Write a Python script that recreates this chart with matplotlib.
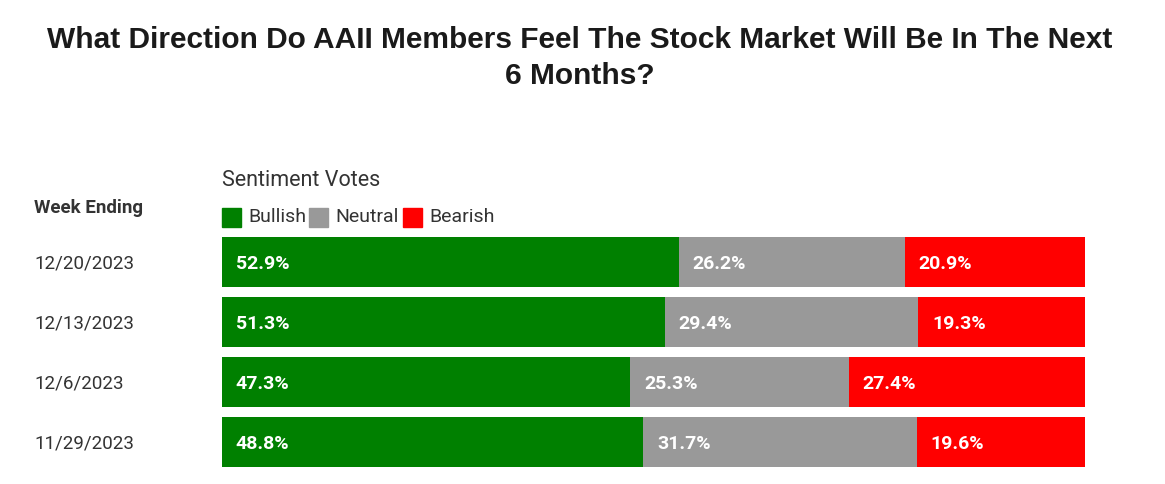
import matplotlib.pyplot as plt

weeks = ["12/20/2023", "12/13/2023", "12/6/2023", "11/29/2023"]
bullish = [52.9, 51.3, 47.3, 48.8]
neutral = [26.2, 29.4, 25.3, 31.7]
bearish = [20.9, 19.3, 27.4, 19.6]
series_names = ["Bullish", "Neutral", "Bearish"]
colors = ["#008000", "#999999", "#ff0000"]

W, H = 1165, 484
fig = plt.figure(figsize=(W / 100, H / 100), dpi=100)
fig.patch.set_facecolor("white")

# axes placed in pixel terms so bars land where the reference has them
ax = fig.add_axes([222 / W, 1 - 467 / H, (1085 - 222) / W, (467 - 237) / H])
bar_h = 50 / 60
ys = [3, 2, 1, 0]

left = [0] * len(weeks)
for name, vals, col in zip(series_names, [bullish, neutral, bearish], colors):
    ax.barh(ys, vals, left=left, height=bar_h, color=col, edgecolor="none")
    for y, l, v in zip(ys, left, vals):
        ax.text(l + 1.6, y - 0.03, f"{v}%", color="white", fontsize=14, fontweight="bold",
                family=["Roboto", "DejaVu Sans"], va="center", ha="left")
    left = [a + b for a, b in zip(left, vals)]

ax.set_xlim(0, 100)
ax.set_ylim(-bar_h / 2, 3 + bar_h / 2)
ax.axis("off")

txt = dict(family=["Roboto", "DejaVu Sans"], color="#333333")
for y, w in zip(ys, weeks):
    # x in figure coords, y in data coords
    ax.text(34 / W, y - 0.03, w, fontsize=13.5, va="center", ha="left",
            transform=ax.get_yaxis_transform().__class__(fig.transFigure, ax.transData), **txt)

fig.text(34 / W, 1 - 208 / H, "Week Ending", fontsize=13.5, fontweight="bold", va="center", ha="left", **txt)
fig.text(222 / W, 1 - 181 / H, "Sentiment Votes", fontsize=15.5, va="center", ha="left", **txt)

# legend row drawn by hand
lx = [222, 309, 403]
for x0, name, col in zip(lx, series_names, colors):
    fig.patches.append(plt.Rectangle((x0 / W, 1 - 227 / H), 19 / W, 19 / H,
                                     transform=fig.transFigure, color=col))
    fig.text((x0 + 26) / W, 1 - 217 / H, name, fontsize=14, va="center", ha="left", **txt)

fig.text(580 / W, 1 - 58 / H,
         "What Direction Do AAII Members Feel The Stock Market Will Be In The Next\n6 Months?",
         fontsize=21.5, fontweight="bold", family=["Liberation Sans", "DejaVu Sans"],
         color="#1a1a1a", ha="center", va="center", linespacing=1.38)

fig.savefig("out.png", dpi=100, facecolor="white")
